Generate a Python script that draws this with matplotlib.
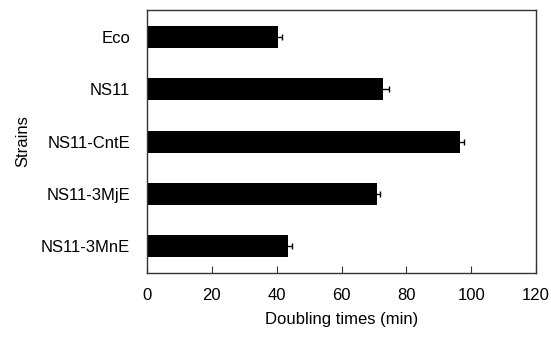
import numpy as np
import matplotlib.pyplot as plt

plt.rcParams['font.family'] = ['Liberation Sans', 'DejaVu Sans']

strains = ['Eco', 'NS11', 'NS11-CntE', 'NS11-3MjE', 'NS11-3MnE']
doubling = [40.3, 72.9, 96.7, 71.0, 43.5]
err = [1.2, 1.8, 1.1, 0.8, 1.3]

fig = plt.figure(figsize=(5.51, 3.37), dpi=100)
ax = fig.add_axes([0.2668, 0.19, 0.706, 0.78])

y = np.arange(len(strains))
ax.barh(y, doubling, height=0.42, color='black', xerr=err,
        error_kw=dict(ecolor='black', elinewidth=1, capsize=2.5, capthick=1))

ax.set_xlim(0, 120)
ax.set_ylim(4.51, -0.51)
ax.set_xticks(np.arange(0, 121, 20))
ax.set_yticks(y)
ax.set_yticklabels(strains)
ax.tick_params(axis='x', direction='in', length=5, labelsize=12, pad=11, color='#333333')
ax.tick_params(axis='y', length=0, labelsize=12, pad=12)
for s in ax.spines.values():
    s.set_color('#333333')
    s.set_linewidth(1)

ax.set_xlabel('Doubling times (min)', fontsize=12, labelpad=6)
ax.set_ylabel('Strains', fontsize=12, labelpad=8)

fig.savefig('out.png', dpi=100)
